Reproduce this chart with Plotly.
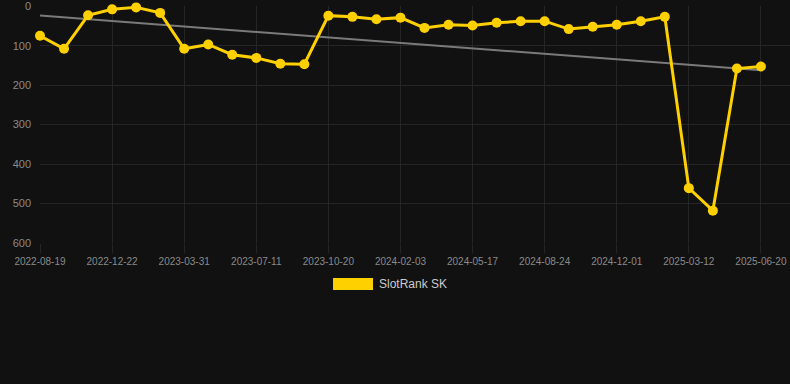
import numpy as np
import plotly.graph_objects as go

tick_labels = ["2022-08-19", "2022-12-22", "2023-03-31", "2023-07-11", "2023-10-20",
               "2024-02-03", "2024-05-17", "2024-08-24", "2024-12-01", "2025-03-12",
               "2025-06-20"]
rank_values = [75, 108, 23, 8, 3, 17, 108, 97, 123, 131, 146, 147, 24, 27, 33, 29,
               55, 47, 49, 42, 38, 38, 58, 52, 47, 38, 27, 461, 518, 158, 153]
series_name = "SlotRank SK"

idx = np.arange(len(rank_values))
tick_positions = idx[::3]

slope, intercept = np.polyfit(idx, np.array(rank_values, dtype=float), 1)
trend = slope * idx + intercept

GOLD = "#FFD000"
BG = "#111111"
GRID = "#262626"

fig = go.Figure()
fig.add_trace(go.Scatter(x=idx, y=trend, mode="lines",
                         line=dict(color="#7a7a7a", width=2),
                         showlegend=False, hoverinfo="skip", cliponaxis=False))
fig.add_trace(go.Scatter(x=idx, y=rank_values, mode="lines+markers",
                         name=series_name,
                         line=dict(color=GOLD, width=3),
                         marker=dict(color=GOLD, size=10),
                         showlegend=False, cliponaxis=False))

fig.update_layout(
    width=790, height=384,
    paper_bgcolor=BG, plot_bgcolor=BG,
    margin=dict(l=40, r=0, t=6, b=141),
    font=dict(family="Liberation Sans, Arial, sans-serif", color="#8a8a8a"),
    xaxis=dict(range=[0, 31.21], tickvals=list(tick_positions), ticktext=tick_labels,
               showgrid=True, gridcolor=GRID, gridwidth=1, zeroline=False,
               ticks="outside", ticklen=9, tickcolor=GRID, showline=False,
               tickfont=dict(size=10, color="#8a8a8a")),
    yaxis=dict(range=[600, -0.5], tickvals=[0, 100, 200, 300, 400, 500, 600],
               showgrid=True, gridcolor=GRID, gridwidth=1, zeroline=False,
               ticks="", showline=False, ticklabelstandoff=8,
               tickfont=dict(size=11, color="#8a8a8a")),
    shapes=[dict(type="rect", xref="paper", yref="paper",
                 x0=0.3907, x1=0.444, y0=-0.1983, y1=-0.1477,
                 fillcolor=GOLD, line=dict(width=0))],
    annotations=[dict(text=series_name, xref="paper", yref="paper",
                      x=0.449, y=-0.173, xanchor="left", yanchor="middle",
                      showarrow=False, font=dict(size=12, color="#cccccc"))],
)

fig.write_html("out.html", config={"displayModeBar": False},
               post_script="document.body.style.margin='0';document.body.style.background='#111111';")
